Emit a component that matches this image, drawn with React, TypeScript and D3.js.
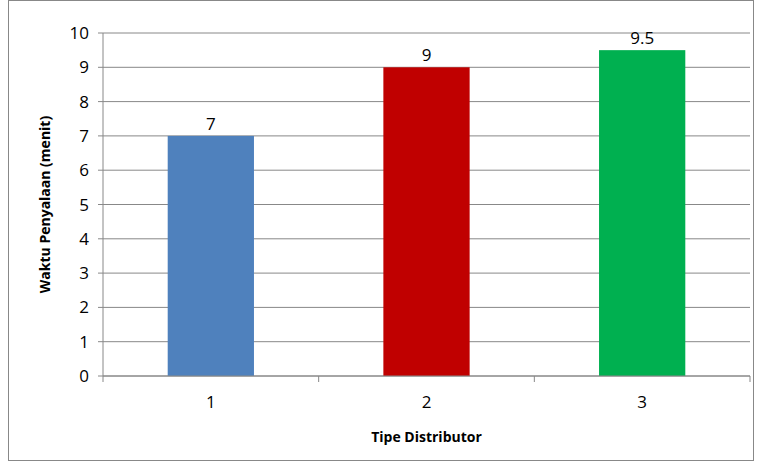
import * as d3 from "d3";

const categories = ["1", "2", "3"];
const values = [7, 9, 9.5];
const colors = ["#4F81BD", "#C00000", "#00B050"];
const yTicks = [0, 1, 2, 3, 4, 5, 6, 7, 8, 9, 10];

export default function App() {
  const W = 761, H = 462;
  const left = 103, right = 750, top = 33, bottom = 376;
  const x = d3.scaleBand().domain(categories).range([left, right]).paddingInner(0.6).paddingOuter(0.3);
  const xc = d3.scaleBand().domain(categories).range([left, right]);
  const y = d3.scaleLinear().domain([0, 10]).range([bottom, top]);
  const font = "Open Sans, Liberation Sans, sans-serif";
  return (
    <svg width={W} height={H} style={{ position: "absolute", left: 0, top: 0 }} fontFamily={font}>
      <rect x={8.5} y={0.5} width={745} height={460} fill="white" stroke="#888" />
      {yTicks.map((t) => (
        <line key={"g" + t} x1={left} x2={right} y1={y(t)} y2={y(t)} stroke="#888" />
      ))}
      {categories.map((c, i) => (
        <g key={c}>
          <rect x={x(c)} y={y(values[i])} width={x.bandwidth()} height={bottom - y(values[i])} fill={colors[i]} />
          <text x={x(c)! + x.bandwidth() / 2} y={y(values[i]) - 6} textAnchor="middle" fontSize={17}>{values[i]}</text>
          <text x={xc(c)! + xc.bandwidth() / 2} y={bottom + 32} textAnchor="middle" fontSize={17}>{c}</text>
        </g>
      ))}
      <line x1={left} x2={left} y1={top} y2={bottom} stroke="#888" />
      <line x1={left} x2={right} y1={bottom} y2={bottom} stroke="#888" />
      {yTicks.map((t) => (
        <g key={t}>
          <line x1={left - 5} x2={left} y1={y(t)} y2={y(t)} stroke="#888" />
          <text x={left - 14} y={y(t) + 6} textAnchor="end" fontSize={17}>{t}</text>
        </g>
      ))}
      {[...categories.map((c) => xc(c)!), right].map((v, i) => (
        <line key={i} x1={v} x2={v} y1={bottom} y2={bottom + 6} stroke="#888" />
      ))}
      <text transform={`translate(50,${(top + bottom) / 2}) rotate(-90)`} textAnchor="middle" fontSize={14} fontWeight="bold">Waktu Penyalaan (menit)</text>
      <text x={(left + right) / 2} y={442} textAnchor="middle" fontSize={14} fontWeight="bold">Tipe Distributor</text>
    </svg>
  );
}
